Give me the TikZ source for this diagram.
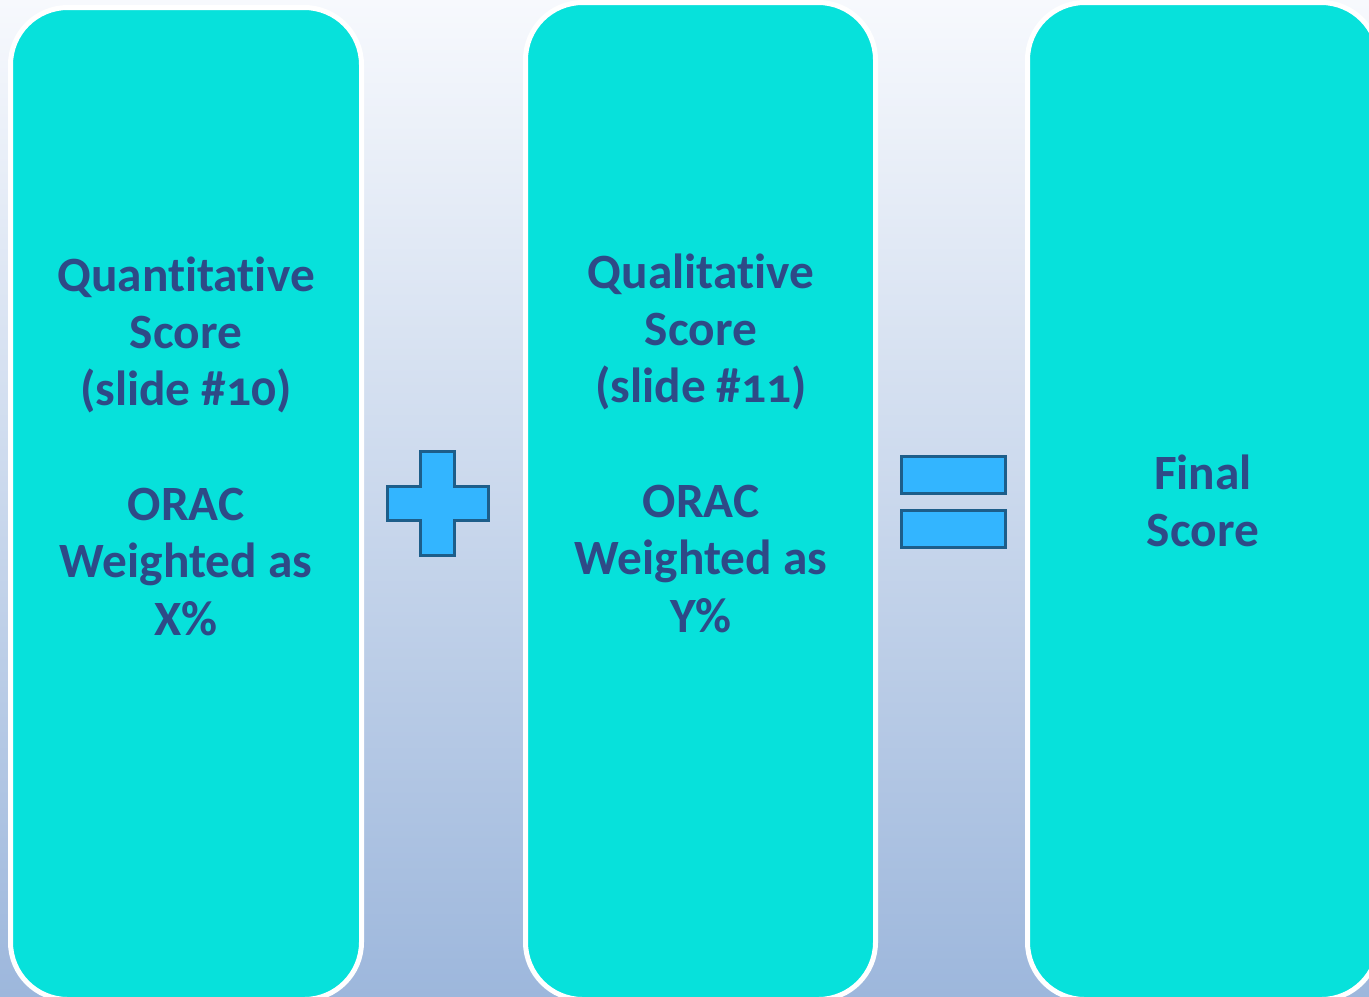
\documentclass[tikz,border=0pt]{standalone}
\usepackage{fontspec}
\setmainfont{Carlito}[Numbers=OldStyle, Ligatures=NoCommon]
\usetikzlibrary{shapes.misc}
\definecolor{bgtop}{HTML}{F7F9FD}
\definecolor{bgbot}{HTML}{9DB7DC}
\definecolor{cyanbox}{HTML}{07E1DB}
\definecolor{txtblue}{HTML}{2E4A87}
\definecolor{signfill}{HTML}{33B5FF}
\definecolor{signline}{HTML}{1D5E8A}
\tikzset{
  colbox/.style={draw=white, line width=3.75pt, fill=cyanbox, rounded corners=43pt, inner sep=0pt},
  coltext/.style={text=txtblue, font=\fontsize{37}{43}\selectfont\bfseries, align=center, inner sep=0pt},
  sign/.style={fill=signfill, draw=signline, line width=2.25pt}
}
\begin{document}
\begin{tikzpicture}[x=0.75pt, y=-0.75pt]
\useasboundingbox (0,0) rectangle (1369,996);
\shade[top color=bgtop, bottom color=bgbot] (0,0) rectangle (1369,996);
\node[colbox, minimum width=263.25pt, minimum height=744pt] (b1) at (186,503.5) {};
\node[colbox, minimum width=262.5pt, minimum height=747.75pt] (b2) at (700.5,501) {};
\node[colbox, minimum width=263.25pt, minimum height=747.75pt] (b3) at (1203,501) {};
\node[coltext] (t1) at (186,446) {Quantitative\\Score\\(slide \#10)\\[43pt]ORAC\\Weighted as\\X\%};
\node[coltext] (t2) at (701,443) {Qualitative\\Score\\(slide \#11)\\[43pt]ORAC\\Weighted as\\Y\%};
\node[coltext] (t3) at (1203,501) {Final\\Score};
% plus sign
\draw[sign] (420,451) -- (454,451) -- (454,486) -- (488,486) -- (488,520) -- (454,520) -- (454,555) -- (420,555) -- (420,520) -- (387,520) -- (387,486) -- (420,486) -- cycle;
% equals sign
\draw[sign] (901,456) rectangle (1005,493);
\draw[sign] (901,510) rectangle (1005,547);
\end{tikzpicture}
\end{document}
